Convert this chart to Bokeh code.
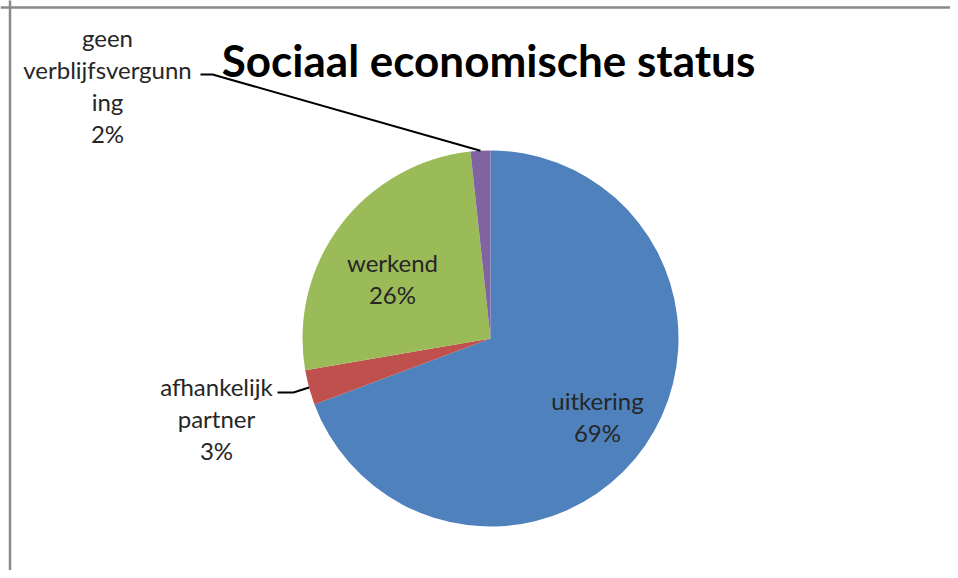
import numpy as np
from bokeh.plotting import figure
from bokeh.models import Range1d, ColumnDataSource
from bokeh.core.properties import value
from bokeh.embed import file_html
from bokeh.resources import INLINE

# ---- data ----
title = "Sociaal economische status"
categories = ["uitkering", "afhankelijk partner", "werkend", "geen verblijfsvergunning"]
label_texts = ["uitkering", "afhankelijk\npartner", "werkend", "geen\nverblijfsvergunn\ning"]
shares = [69.3, 3.0, 26.0, 1.7]
colors = ["#4F81BD", "#C0504D", "#9BBB59", "#8064A2"]

W, H = 950, 570
p = figure(width=W, height=H, output_backend="svg", toolbar_location=None,
           x_range=Range1d(-8, W - 8), y_range=Range1d(8, H + 8), min_border=0)
p.axis.visible = False
p.grid.visible = False
p.outline_line_color = None
p.background_fill_color = "white"

# frame (left and top edges)
p.line([1.5, 1.5], [0, 580], line_color="#8a8a8a", line_width=2.5)
p.line([-8, W], [571, 571], line_color="#8a8a8a", line_width=2.5)

cx, cy, r = 482, 240, 188
vals = np.array(shares, dtype=float)
frac = vals / vals.sum()
cum_end = np.cumsum(frac)
cum_start = cum_end - frac
start = np.pi / 2 - 2 * np.pi * cum_start
end = np.pi / 2 - 2 * np.pi * cum_end
mid = (start + end) / 2

src = ColumnDataSource(dict(start=start, end=end, color=colors, cat=categories))
p.wedge(x=cx, y=cy, radius=r, start_angle="start", end_angle="end",
        direction="clock", fill_color="color", line_color=None, source=src)

pct = [f"{int(round(v))}%" for v in vals]
font = value("Lato")
tcolor = "#262626"
fs = "24px"
lh = 1.1

# label placement (layout only)
label_pos = {0: (589, 162), 1: (208, 160), 2: (384, 300), 3: (99, 493)}
elbows = {1: [(269, 186), (285, 186)], 3: [(192, 504), (204, 504)]}

for i in range(len(vals)):
    lx, ly = label_pos[i]
    p.text(x=[lx], y=[ly], text=[label_texts[i] + "\n" + pct[i]], text_font=font,
           text_font_size=fs, text_color=tcolor, text_align="center",
           text_baseline="middle", text_line_height=lh)
    if i in elbows:
        ex = cx + r * np.cos(mid[i])
        ey = cy + r * np.sin(mid[i])
        xs = [elbows[i][0][0], elbows[i][1][0], ex]
        ys = [elbows[i][0][1], elbows[i][1][1], ey]
        p.line(xs, ys, line_color="black", line_width=2)

# title
p.text(x=[480], y=[519], text=[title], text_font=font, text_font_size="44px",
       text_font_style="bold", text_color="black", text_align="center",
       text_baseline="middle")

open("out.html", "w").write(file_html(p, INLINE))
